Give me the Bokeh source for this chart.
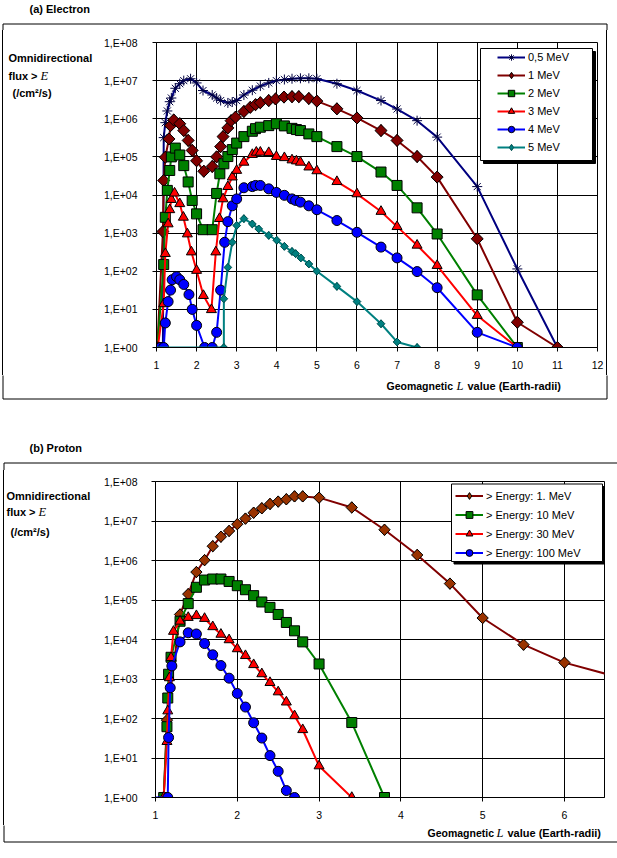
import numpy as np
from bokeh.plotting import figure
from bokeh.models import (Range1d, FixedTicker, CustomJSTickFormatter, Label,
                          BoxAnnotation, Legend, LegendItem, Spacer)
from bokeh.layouts import column, row
from bokeh.embed import file_html
from bokeh.resources import INLINE

# ---------------- data ----------------
Y_TICKS = [1, 10, 100, 1e3, 1e4, 1e5, 1e6, 1e7, 1e8]
Y_TICK_LABELS = ["1,E+00", "1,E+01", "1,E+02", "1,E+03", "1,E+04",
                 "1,E+05", "1,E+06", "1,E+07", "1,E+08"]
E_X_TICKS = [1, 2, 3, 4, 5, 6, 7, 8, 9, 10, 11, 12]
P_X_TICKS = [1, 2, 3, 4, 5, 6]

E_LABELS = ["0,5 MeV", "1 MeV", "2 MeV", "3 MeV", "4 MeV", "5 MeV"]

E05_L = [1.16, 1.18, 1.22, 1.27, 1.33, 1.37, 1.47, 1.58, 1.68, 1.85, 2.0, 2.16, 2.39, 2.5,
         2.6, 2.78, 2.89, 3.0, 3.18, 3.39, 3.59, 3.8, 3.99, 4.19, 4.38, 4.59, 4.8, 5.0,
         5.5, 6.0, 6.6, 7.0, 7.5, 8.0, 9.0, 10.0, 11.0]
E05_F = [1, 3.2e5, 7.9e5, 1.6e6, 2.8e6, 3.5e6, 6.3e6, 8.3e6, 1.0e7, 1.12e7, 8.7e6, 5.5e6,
         4.2e6, 3.5e6, 3.0e6, 2.6e6, 2.75e6, 3.0e6, 4.2e6, 5.6e6, 7.2e6, 8.7e6, 1.0e7,
         1.07e7, 1.12e7, 1.15e7, 1.15e7, 1.12e7, 8.3e6, 5.5e6, 3.0e6, 1.8e6, 8.9e5,
         3.3e5, 1.66e4, 115, 1]

E1_L = [1.02, 1.16, 1.18, 1.22, 1.31, 1.35, 1.43, 1.58, 1.68, 1.79, 1.89, 2.0, 2.18,
        2.39, 2.5, 2.6, 2.66, 2.78, 2.86, 2.97, 3.18, 3.34, 3.47, 3.59, 3.8, 3.97, 4.18,
        4.38, 4.55, 4.8, 5.0, 5.5, 6.0, 6.6, 7.0, 7.5, 8.0, 9.0, 10.0, 11.0]
E1_F = [1, 1100, 2.4e4, 9.8e4, 2.95e5, 6.6e5, 9.3e5, 7.4e5, 4.9e5, 2.7e5, 1.48e5, 7.9e4,
        4.2e4, 5.6e4, 1.0e5, 1.86e5, 3.4e5, 5.75e5, 8.9e5, 1.1e6, 1.55e6, 2.0e6, 2.34e6,
        2.63e6, 3.0e6, 3.3e6, 3.7e6, 3.8e6, 3.8e6, 3.4e6, 2.9e6, 1.82e6, 1.05e6, 4.9e5,
        2.7e5, 1.02e5, 2.95e4, 710, 4.6, 1]

E2_L = [1.02, 1.18, 1.22, 1.27, 1.33, 1.37, 1.47, 1.58, 1.68, 1.79, 1.89, 2.0, 2.16,
        2.39, 2.5, 2.58, 2.68, 2.78, 2.89, 3.0, 3.18, 3.39, 3.47, 3.59, 3.8, 3.99, 4.19,
        4.38, 4.49, 4.59, 4.8, 5.0, 5.5, 6.0, 6.6, 7.0, 7.5, 8.0, 9.0, 10.0]
E2_F = [1, 150, 2600, 1.32e4, 4.4e4, 1.0e5, 1.7e5, 1.12e5, 5.9e4, 2.2e4, 7200, 3200,
        1230, 1230, 1.1e4, 3.6e4, 6.6e4, 1.02e5, 1.55e5, 2.3e5, 3.4e5, 4.7e5, 5.5e5,
        6.0e5, 6.6e5, 7.4e5, 6.5e5, 5.6e5, 5.2e5, 4.9e5, 4.0e5, 3.4e5, 1.86e5, 1.02e5,
        4.0e4, 1.78e4, 4600, 950, 24, 1]

E3_L = [1.03, 1.18, 1.22, 1.29, 1.33, 1.37, 1.45, 1.58, 1.67, 1.77, 1.87, 2.0, 2.17,
        2.37, 2.48, 2.57, 2.66, 2.78, 2.89, 3.0, 3.18, 3.39, 3.49, 3.59, 3.8, 3.99, 4.19,
        4.38, 4.49, 4.59, 4.8, 5.0, 5.5, 6.0, 6.6, 7.0, 7.5, 8.0, 9.0, 10.0]
E3_F = [1, 14, 290, 1740, 4100, 7600, 1.12e4, 5900, 2600, 950, 320, 105, 23, 9.8, 320,
        2400, 7900, 1.66e4, 2.95e4, 4.4e4, 7.2e4, 1.15e5, 1.32e5, 1.32e5, 1.29e5, 1.02e5,
        9.5e4, 8.3e4, 7.8e4, 7.2e4, 5.4e4, 4.3e4, 2.24e4, 1.07e4, 3700, 1480, 480, 141,
        6.9, 1]

E4_L = [1.1, 1.18, 1.22, 1.29, 1.35, 1.39, 1.5, 1.58, 1.68, 1.81, 1.89, 2.0, 2.2, 2.39,
        2.5, 2.6, 2.7, 2.78, 2.89, 3.0, 3.18, 3.39, 3.47, 3.59, 3.8, 3.99, 4.19, 4.38,
        4.47, 4.59, 4.8, 5.0, 5.5, 6.0, 6.6, 7.0, 7.5, 8.0, 9.0, 10.0]
E4_F = [1, 1, 4.4, 16, 32, 60, 72, 60, 45, 24.5, 10, 3.8, 1, 1, 2.5, 32, 575, 2000, 5200,
        7900, 1.55e4, 1.66e4, 1.78e4, 1.78e4, 1.45e4, 1.17e4, 9800, 7900, 7200, 6500,
        5200, 4100, 2140, 1050, 430, 224, 98, 37, 2.5, 1]

E5_L = [0.78, 2.68, 2.68, 2.78, 2.89, 3.0, 3.18, 3.39, 3.55, 3.8, 4.0, 4.19, 4.38, 4.47,
        4.6, 4.8, 5.0, 5.5, 6.0, 6.6, 7.0, 7.5]
E5_F = [1, 1, 19, 126, 575, 1585, 2400, 1740, 1290, 870, 650, 450, 330, 290, 224, 155,
        100, 40, 16, 4.2, 1.4, 1]

P_LABELS = ["> Energy: 1. MeV", "> Energy: 10 MeV", "> Energy: 30 MeV", "> Energy: 100 MeV"]

P1_L = [1.1, 1.14, 1.3, 1.4, 1.5, 1.6, 1.7, 1.8, 1.9, 2.0, 2.1, 2.2, 2.3, 2.4, 2.5, 2.6,
        2.7, 2.8, 3.0, 3.4, 3.8, 4.2, 4.6, 5.0, 5.5, 6.0, 7.0]
P1_F = [1, 91, 4.3e4, 1.41e5, 5.1e5, 1.02e6, 2.3e6, 4.0e6, 5.6e6, 8.3e6, 1.15e7, 1.62e7,
        2.1e7, 2.7e7, 3.1e7, 3.55e7, 4.2e7, 4.2e7, 3.9e7, 2.2e7, 6.0e6, 1.38e6, 2.6e5,
        3.5e4, 7400, 2600, 710]

P10_L = [1.1, 1.14, 1.15, 1.16, 1.19, 1.3, 1.4, 1.5, 1.6, 1.7, 1.8, 1.9, 2.0, 2.1, 2.2,
         2.3, 2.4, 2.5, 2.6, 2.7, 2.8, 3.0, 3.4, 3.8]
P10_F = [1, 62, 330, 1320, 3550, 2.9e4, 8.1e4, 2.1e5, 3.2e5, 3.4e5, 3.4e5, 2.95e5, 2.3e5,
         1.82e5, 1.29e5, 8.9e4, 6.5e4, 4.3e4, 2.7e4, 1.66e4, 8700, 2400, 79, 1]

P30_L = [1.1, 1.14, 1.15, 1.17, 1.19, 1.22, 1.3, 1.4, 1.5, 1.6, 1.7, 1.8, 1.9, 2.0, 2.1,
         2.2, 2.3, 2.4, 2.5, 2.6, 2.7, 2.8, 3.0, 3.4]
P30_F = [1, 26, 155, 1070, 3470, 1.6e4, 2.9e4, 3.6e4, 4.0e4, 3.4e4, 2.1e4, 1.35e4, 9800,
         5800, 3900, 2300, 1350, 810, 470, 260, 117, 52, 6.3, 1]

P100_L = [0.93, 1.15, 1.16, 1.18, 1.2, 1.3, 1.4, 1.5, 1.6, 1.7, 1.8, 1.9, 2.0, 2.1, 2.2,
          2.3, 2.4, 2.5, 2.6, 2.7]
P100_F = [1, 1, 33, 600, 2140, 8700, 1.48e4, 1.38e4, 7900, 4100, 2190, 1050, 430, 195, 78,
          32, 11.5, 4.6, 1.5, 1]

# ---------------- helpers ----------------
FONT = "Liberation Sans"
SERIF = "Liberation Serif"
ROT = np.pi / 4


def style(p, xticks, ystandoff):
    p.xaxis.ticker = FixedTicker(ticks=xticks)
    p.yaxis.ticker = FixedTicker(ticks=Y_TICKS)
    p.yaxis.formatter = CustomJSTickFormatter(
        args=dict(labels=Y_TICK_LABELS),
        code="return labels[Math.round(Math.log10(tick))];")
    for ax in p.axis:
        ax.axis_line_color = "black"
        ax.major_tick_line_color = "black"
        ax.major_tick_in = 0
        ax.major_tick_out = 4
        ax.minor_tick_line_color = None
        ax.major_label_text_font = FONT
        ax.major_label_text_font_size = "10.5px"
        ax.major_label_text_color = "black"
    p.xaxis.major_label_standoff = 9
    p.yaxis.major_label_standoff = ystandoff
    p.grid.grid_line_color = "black"
    p.grid.grid_line_alpha = 1
    p.grid.grid_line_width = 1
    p.outline_line_color = "black"
    p.outline_line_alpha = 1
    p.background_fill_color = "white"
    p.border_fill_color = "white"


def strip(w, h, bt=0, bb=0):
    # decoration strip; data units = pixels inside its frame (top-down)
    fh = h - bt - bb
    s = figure(width=w, height=h, x_range=Range1d(0, w), y_range=Range1d(fh, 0),
               x_axis_location=None, y_axis_location=None, title=None,
               min_border_left=0, min_border_right=0, min_border_top=bt,
               min_border_bottom=bb, toolbar_location=None, output_backend="svg")
    s.grid.visible = False
    s.outline_line_color = None
    s.background_fill_color = "white"
    s.border_fill_color = "white"
    return s


def stxt(s, x, y, text, size="11px", fstyle="bold", font=FONT):
    s.add_layout(Label(x=x, y=y, text=text, text_font=font, text_font_size=size,
                       text_font_style=fstyle, text_align="left",
                       text_baseline="middle", text_color="black"))


def sbox(s, left, right, top, bottom):
    s.add_layout(BoxAnnotation(left=left, right=right, top=top, bottom=bottom,
                               fill_alpha=0, line_color="black", line_alpha=1,
                               line_width=1))


def fbox(p, fr, x0, y0, x1, y1, fill):
    # box inside a plot frame, given in page pixels; fr = (frame left, frame bottom)
    fl, fb = fr
    p.add_layout(BoxAnnotation(
        left=x0 - fl, right=x1 - fl, top=fb - y0, bottom=fb - y1,
        left_units="screen", right_units="screen",
        top_units="screen", bottom_units="screen",
        fill_color=fill, fill_alpha=1, line_color="black", line_alpha=1,
        line_width=1))


def vline(h):
    return Spacer(width=1, height=h, styles={"background-color": "black"})


def gap(w, h):
    return Spacer(width=w, height=h)


def series(p, xs, ys, color, marker, size, fill, outline, lw=2):
    r1 = p.line(xs, ys, line_color=color, line_width=lw)
    if marker == "diamond":
        # legend proxy (hidden under the rotated squares) + rotated squares
        r2 = p.scatter(xs, ys, marker="diamond", size=size * 1.41, fill_color=fill,
                       line_color=outline, line_width=1)
        p.scatter(xs, ys, marker="square", size=size, angle=ROT, fill_color=fill,
                  line_color=outline, line_width=1)
    else:
        r2 = p.scatter(xs, ys, marker=marker, size=size, fill_color=fill,
                       line_color=outline, line_width=1)
    return [r1, r2]


# ================= panel (a) Electron =================
topA = strip(617, 30)
stxt(topA, 29, 8, "(a) Electron")
sbox(topA, 2.5, 606.5, 23.5, 200)

# left strip: page x 3..100, page y 30..375, frame page y 42..347
leftA = strip(97, 345, bt=12, bb=28)
XA, YA = 3, 42
stxt(leftA, 8 - XA, 57.5 - YA, "Omnidirectional")
stxt(leftA, 8 - XA, 75 - YA, "flux >")
stxt(leftA, 40 - XA, 75 - YA, "E", size="12.5px", fstyle="italic", font=SERIF)
stxt(leftA, 12 - XA, 92 - YA, "(/cm\u00b2/s)")

FA = (156, 347)
pA = figure(width=504, height=345, x_range=Range1d(1, 12), y_range=Range1d(1, 1e8),
            y_axis_type="log", output_backend="svg", toolbar_location=None, title=None,
            min_border_left=56, min_border_right=7, min_border_top=12,
            min_border_bottom=28)
style(pA, E_X_TICKS, 15)

ra = [
    series(pA, E05_L, E05_F, "#000080", "asterisk", 10, "#000080", "#000040"),
    series(pA, E1_L, E1_F, "#800000", "diamond", 8.5, "#800000", "black"),
    series(pA, E2_L, E2_F, "#008000", "square", 10, "#008000", "black"),
    series(pA, E3_L, E3_F, "#FF0000", "triangle", 10, "#FF0000", "black"),
    series(pA, E4_L, E4_F, "#0000FF", "circle", 10, "#0000FF", "black"),
    series(pA, E5_L, E5_F, "#008080", "diamond", 5.5, "#008080", "#005050"),
]

fbox(pA, FA, 483, 51, 595, 163, "black")
fbox(pA, FA, 480, 48, 592, 160, "white")
legA = Legend(items=[LegendItem(label=lab, renderers=rr) for lab, rr in zip(E_LABELS, ra)],
              location=(341, 192), orientation="vertical", margin=0, padding=0,
              spacing=2, glyph_width=28, glyph_height=16, label_height=16,
              label_standoff=3, border_line_alpha=0, background_fill_alpha=0,
              label_text_font=FONT, label_text_font_size="11px",
              label_text_color="black")
pA.add_layout(legA)

botA = strip(617, 45)
sbox(botA, 2.5, 606.5, -50, 23.5)
stxt(botA, 386, 10, "Geomagnetic", size="10.5px")
stxt(botA, 456, 10, "L", size="12.5px", fstyle="italic", font=SERIF)
stxt(botA, 467, 10, "value (Earth-radii)")

rowA = row(gap(2, 345), vline(345), leftA, pA, gap(2, 345), vline(345), gap(10, 345),
           spacing=0)

# ================= panel (b) Proton =================
topB = strip(617, 50)
stxt(topB, 29, 27, "(b) Proton")
sbox(topB, 3.5, 900, 42.5, 300)

# left strip: page x 4..100, page y 470..825, frame page y 481..797
leftB = strip(96, 355, bt=11, bb=28)
XB, YB = 4, 481
stxt(leftB, 6 - XB, 495 - YB, "Omnidirectional")
stxt(leftB, 6 - XB, 511.7 - YB, "flux >")
stxt(leftB, 38 - XB, 511.7 - YB, "E", size="12.5px", fstyle="italic", font=SERIF)
stxt(leftB, 10 - XB, 531 - YB, "(/cm\u00b2/s)")

FB = (155, 797)
pB = figure(width=517, height=355, x_range=Range1d(1, 6.49), y_range=Range1d(1, 1e8),
            y_axis_type="log", output_backend="svg", toolbar_location=None, title=None,
            min_border_left=55, min_border_right=13, min_border_top=11,
            min_border_bottom=28)
style(pB, P_X_TICKS, 14)

rb = [
    series(pB, P1_L, P1_F, "#800000", "diamond", 8, "#993300", "black"),
    series(pB, P10_L, P10_F, "#008000", "square", 10, "#008000", "black"),
    series(pB, P30_L, P30_F, "#FF0000", "triangle", 10, "#FF0000", "black"),
    series(pB, P100_L, P100_F, "#0000FF", "circle", 10, "#0000FF", "black"),
]

fbox(pB, FB, 453.5, 486, 604.5, 563.5, "black")
fbox(pB, FB, 451, 483.5, 602, 561, "white")
legB = Legend(items=[LegendItem(label=lab, renderers=rr) for lab, rr in zip(P_LABELS, rb)],
              location=(300, 236), orientation="vertical", margin=0, padding=0,
              spacing=2, glyph_width=28, glyph_height=17, label_height=17,
              label_standoff=3, border_line_alpha=0, background_fill_alpha=0,
              label_text_font=FONT, label_text_font_size="11px",
              label_text_color="black")
pB.add_layout(legB)

botB = strip(617, 33)
sbox(botB, 3.5, 900, -50, 16.5)
stxt(botB, 427, 7, "Geomagnetic", size="10.5px")
stxt(botB, 496, 7, "L", size="12.5px", fstyle="italic", font=SERIF)
stxt(botB, 507, 7, "value (Earth-radii)")

rowB = row(gap(3, 355), vline(355), leftB, pB, spacing=0)

layout = column(topA, rowA, botA, topB, rowB, botB, spacing=0)
open("out.html", "w").write(file_html(layout, INLINE))
